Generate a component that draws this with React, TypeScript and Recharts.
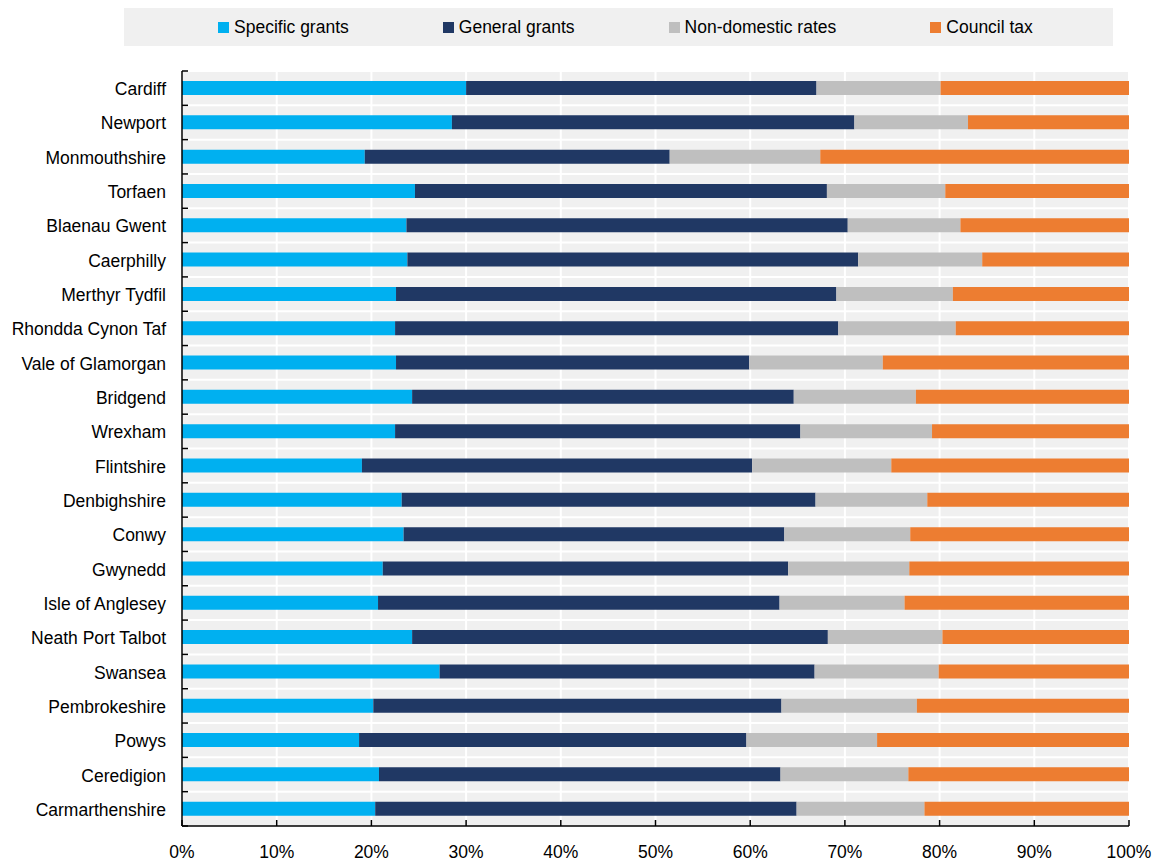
import React from "react";
import { BarChart, Bar, XAxis, YAxis, CartesianGrid, Legend } from "recharts";

const categories = [
  "Cardiff", "Newport", "Monmouthshire", "Torfaen", "Blaenau Gwent", "Caerphilly",
  "Merthyr Tydfil", "Rhondda Cynon Taf", "Vale of Glamorgan", "Bridgend", "Wrexham",
  "Flintshire", "Denbighshire", "Conwy", "Gwynedd", "Isle of Anglesey",
  "Neath Port Talbot", "Swansea", "Pembrokeshire", "Powys", "Ceredigion", "Carmarthenshire",
];
const specificGrants = [30.0, 28.5, 19.3, 24.6, 23.7, 23.8, 22.6, 22.5, 22.6, 24.3, 22.5, 19.0, 23.2, 23.4, 21.2, 20.7, 24.3, 27.2, 20.2, 18.7, 20.8, 20.4];
const generalGrants = [37.0, 42.5, 32.2, 43.5, 46.6, 47.6, 46.5, 46.8, 37.3, 40.3, 42.8, 41.2, 43.7, 40.2, 42.8, 42.4, 43.9, 39.6, 43.1, 40.9, 42.4, 44.5];
const nonDomesticRates = [13.1, 12.0, 15.9, 12.5, 11.9, 13.1, 12.3, 12.4, 14.1, 12.9, 13.9, 14.7, 11.8, 13.3, 12.8, 13.2, 12.1, 13.1, 14.3, 13.8, 13.5, 13.5];
const councilTax = [19.9, 17.0, 32.6, 19.4, 17.8, 15.5, 18.6, 18.3, 26.0, 22.5, 20.8, 25.1, 21.3, 23.1, 23.2, 23.7, 19.7, 20.1, 22.4, 26.6, 23.3, 21.6];
const xTicks = [0, 10, 20, 30, 40, 50, 60, 70, 80, 90, 100];

const seriesNames = ["Specific grants", "General grants", "Non-domestic rates", "Council tax"];
const seriesKeys = ["specific", "general", "ndr", "ct"];
const seriesColors = ["#00B0F0", "#203864", "#BFBFBF", "#ED7D31"];

const data = categories.map((name, i) => ({
  name,
  specific: specificGrants[i],
  general: generalGrants[i],
  ndr: nonDomesticRates[i],
  ct: councilTax[i],
}));

const W = 1157;
const H = 862;
const PLOT_TOP = 71;
const PLOT_BOTTOM = 826;
const PLOT_LEFT = 182;
const PLOT_RIGHT = 1129;
const LEGEND_H = 38;
const FONT = "'Liberation Sans', Arial, sans-serif";

const YTick = (props: any) => {
  const { y, payload, index } = props;
  const band = (PLOT_BOTTOM - PLOT_TOP) / categories.length;
  const top = y - band / 2;
  return (
    <g>
      <line x1={PLOT_LEFT} x2={PLOT_LEFT + 6} y1={top} y2={top} stroke="#000" strokeWidth={1.5} />
      {index === categories.length - 1 && (
        <line x1={PLOT_LEFT} x2={PLOT_LEFT + 6} y1={top + band} y2={top + band} stroke="#000" strokeWidth={1.5} />
      )}
      <text x={166} y={y + 7} textAnchor="end" fontSize={17.5} fontFamily={FONT} fill="#000">
        {payload.value}
      </text>
    </g>
  );
};

const XTick = (props: any) => {
  const { x, payload } = props;
  return (
    <g>
      <line x1={x} x2={x} y1={PLOT_BOTTOM} y2={PLOT_BOTTOM - 6} stroke="#000" strokeWidth={1.5} />
      <text x={x} y={858} textAnchor="middle" fontSize={17.5} fontFamily={FONT} fill="#000">
        {payload.value}%
      </text>
    </g>
  );
};

const LegendContent = () => (
  <div
    style={{
      background: "#F0F0F0",
      height: LEGEND_H,
      display: "flex",
      alignItems: "center",
      paddingLeft: 94,
      boxSizing: "border-box",
      fontFamily: FONT,
      fontSize: 17.5,
      color: "#000",
    }}
  >
    {seriesNames.map((n, i) => (
      <div key={n} style={{ display: "flex", alignItems: "center", marginRight: 94 }}>
        <span style={{ display: "inline-block", width: 11, height: 11, background: seriesColors[i], marginRight: 5 }} />
        <span style={{ whiteSpace: "nowrap" }}>{n}</span>
      </div>
    ))}
  </div>
);

export default function App() {
  return (
    <div style={{ position: "absolute", left: 0, top: 0, width: W, height: H, background: "#fff" }}>
      <BarChart
        width={W}
        height={H}
        data={data}
        layout="vertical"
        barSize={14}
        margin={{ top: PLOT_TOP - LEGEND_H, right: W - PLOT_RIGHT, bottom: 0, left: 0 }}
      >
        <CartesianGrid
          fill="#F0F0F0"
          fillOpacity={1}
          stroke="#FFFFFF"
          strokeWidth={2}
          horizontalCoordinatesGenerator={({ offset }: any) =>
            categories.map((_, i) => offset.top + (i * offset.height) / categories.length)
          }
        />
        <XAxis
          type="number"
          domain={[0, 100]}
          ticks={xTicks}
          interval={0}
          tickLine={false}
          axisLine={{ stroke: "#000", strokeWidth: 1.5 }}
          tick={<XTick />}
          height={H - PLOT_BOTTOM}
        />
        <YAxis
          type="category"
          dataKey="name"
          width={PLOT_LEFT}
          interval={0}
          tickLine={false}
          axisLine={{ stroke: "#000", strokeWidth: 1.5 }}
          tick={<YTick />}
        />
        <Legend
          verticalAlign="top"
          content={<LegendContent />}
          wrapperStyle={{ top: 8, left: 124, width: 989, height: LEGEND_H }}
        />
        {seriesKeys.map((k, i) => (
          <Bar key={k} dataKey={k} stackId="a" fill={seriesColors[i]} name={seriesNames[i]} isAnimationActive={false} />
        ))}
      </BarChart>
    </div>
  );
}
